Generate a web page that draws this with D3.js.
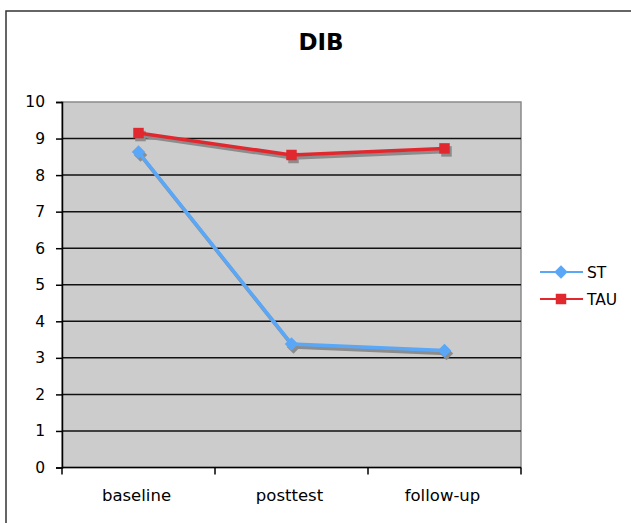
<!DOCTYPE html>
<html>
<head>
<meta charset="utf-8">
<script src="https://cdn.jsdelivr.net/npm/d3@7"></script>
<style>
  html, body { margin: 0; padding: 0; background: #fff; }
  svg { display: block; }
  text { font-family: "DejaVu Sans", Verdana, sans-serif; fill: #000; }
</style>
</head>
<body>
<svg id="chart" width="631" height="523"></svg>
<script>
// DIB scores per measurement moment, by condition
const categories = ["baseline", "posttest", "follow-up"];
const stValues = [8.63, 3.38, 3.2];
const tauValues = [9.15, 8.55, 8.73];
const yTicks = [0, 1, 2, 3, 4, 5, 6, 7, 8, 9, 10];
const seriesNames = ["ST", "TAU"];
const seriesColors = ["#5aa7f7", "#e0282e"];

const svg = d3.select("#chart");
const plot = { left: 62, right: 521, top: 102, bottom: 467.5 };

// outer chart frame
svg.append("rect")
  .attr("x", 6).attr("y", 11)
  .attr("width", 640).attr("height", 540)
  .attr("fill", "#fff").attr("stroke", "#333").attr("stroke-width", 1.5);

svg.append("text")
  .attr("x", 321).attr("y", 50)
  .attr("text-anchor", "middle")
  .attr("font-size", 23).attr("font-weight", "bold")
  .text("DIB");

const x = d3.scaleBand().domain(categories).range([plot.left, plot.right]);
const y = d3.scaleLinear().domain([0, 10]).range([plot.bottom, plot.top]);

// plot area
svg.append("rect")
  .attr("x", plot.left).attr("y", plot.top)
  .attr("width", plot.right - plot.left).attr("height", plot.bottom - plot.top)
  .attr("fill", "#cccccc").attr("stroke", "#8a8a8a").attr("stroke-width", 1.5);

// gridlines
svg.append("g").selectAll("line").data(yTicks.filter(d => d > 0 && d < 10)).join("line")
  .attr("x1", plot.left).attr("x2", plot.right)
  .attr("y1", d => y(d)).attr("y2", d => y(d))
  .attr("stroke", "#111").attr("stroke-width", 1.5);

// y axis
const yAxis = svg.append("g")
  .attr("transform", `translate(${plot.left},0)`)
  .call(d3.axisLeft(y).tickValues(yTicks).tickSize(6).tickPadding(11));
yAxis.selectAll("text").attr("font-size", 15.5).style("font-family", "DejaVu Sans, Verdana, sans-serif");
yAxis.selectAll("line, path").attr("stroke", "#000").attr("stroke-width", 1.5);

// x axis with ticks at category boundaries
const xAxisG = svg.append("g").attr("transform", `translate(0,${plot.bottom})`);
xAxisG.append("line")
  .attr("x1", plot.left).attr("x2", plot.right)
  .attr("stroke", "#000").attr("stroke-width", 1.5);
const boundaries = [plot.left, ...categories.map(c => x(c) + x.bandwidth())];
xAxisG.selectAll(".tk").data(boundaries).join("line")
  .attr("class", "tk")
  .attr("x1", d => d).attr("x2", d => d)
  .attr("y1", 0).attr("y2", 7)
  .attr("stroke", "#000").attr("stroke-width", 1.5);
xAxisG.selectAll("text").data(categories).join("text")
  .attr("x", d => x(d) + x.bandwidth() / 2 - 2)
  .attr("y", 33)
  .attr("text-anchor", "middle")
  .attr("font-size", 16.5)
  .text(d => d);

const series = [
  { name: seriesNames[0], values: stValues, color: seriesColors[0], marker: "diamond" },
  { name: seriesNames[1], values: tauValues, color: seriesColors[1], marker: "square" }
];

const line = d3.line()
  .x((d, i) => x(categories[i]) + x.bandwidth() / 2)
  .y(d => y(d));

// square-proportioned diamond (a square turned by 45 degrees)
const diamondShape = {
  draw(ctx, size) {
    const r = Math.sqrt(size / 2);
    ctx.moveTo(0, -r); ctx.lineTo(r, 0); ctx.lineTo(0, r); ctx.lineTo(-r, 0); ctx.closePath();
  }
};
const symbolFor = m => m === "diamond"
  ? d3.symbol().type(diamondShape).size(90)
  : d3.symbol().type(d3.symbolSquare).size(110);

// drop shadows
series.forEach(s => {
  const g = svg.append("g").attr("transform", "translate(2,3)");
  g.append("path").attr("d", line(s.values))
    .attr("fill", "none").attr("stroke", "#8c8c8c").attr("stroke-width", 3.5);
  g.selectAll("path.m").data(s.values).join("path").attr("class", "m")
    .attr("transform", (d, i) => `translate(${x(categories[i]) + x.bandwidth() / 2},${y(d)})`)
    .attr("d", symbolFor(s.marker)())
    .attr("fill", "#8c8c8c");
});

series.forEach(s => {
  const g = svg.append("g");
  g.append("path").attr("d", line(s.values))
    .attr("fill", "none").attr("stroke", s.color).attr("stroke-width", 3.5);
  g.selectAll("path.m").data(s.values).join("path").attr("class", "m")
    .attr("transform", (d, i) => `translate(${x(categories[i]) + x.bandwidth() / 2},${y(d)})`)
    .attr("d", symbolFor(s.marker)())
    .attr("fill", s.color);
});

// legend
const legend = svg.append("g");
series.forEach((s, i) => {
  const ly = 272 + i * 27;
  legend.append("line")
    .attr("x1", 540).attr("x2", 583).attr("y1", ly).attr("y2", ly)
    .attr("stroke", s.color).attr("stroke-width", 2);
  legend.append("path")
    .attr("transform", `translate(561,${ly})`)
    .attr("d", symbolFor(s.marker)())
    .attr("fill", s.color);
  legend.append("text")
    .attr("x", 587).attr("y", ly + 6)
    .attr("font-size", 15.5)
    .text(s.name);
});
</script>
</body>
</html>
